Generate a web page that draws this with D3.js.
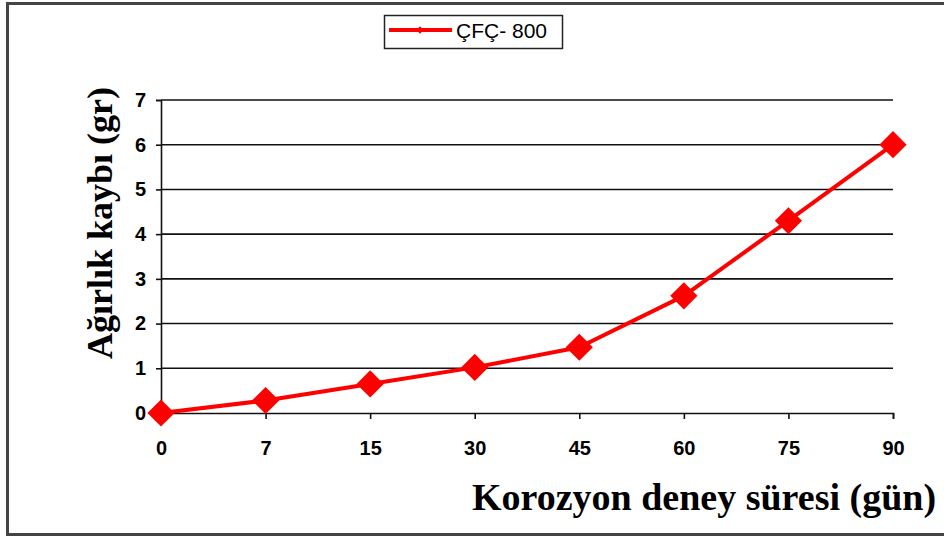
<!DOCTYPE html>
<html>
<head>
<meta charset="utf-8">
<script src="https://cdn.jsdelivr.net/npm/d3@7"></script>
<style>
  html, body { margin: 0; padding: 0; background: #fff; }
  svg { display: block; }
</style>
</head>
<body>
<svg id="chart" width="944" height="538"></svg>
<script>
// Corrosion test: weight loss over time
const days = ["0", "7", "15", "30", "45", "60", "75", "90"];
const weightLoss = [0, 0.28, 0.65, 1.02, 1.47, 2.62, 4.3, 6.0];
const yTicks = [0, 1, 2, 3, 4, 5, 6, 7];
const seriesName = "ÇFÇ- 800";

const svg = d3.select("#chart");
const W = 944, H = 538;
const plot = { left: 161, right: 893, top: 100, bottom: 413 };

// outer frame
svg.append("rect")
  .attr("x", 7.5).attr("y", 3.5)
  .attr("width", W + 10).attr("height", 531)
  .attr("fill", "#fff")
  .attr("stroke", "#444").attr("stroke-width", 3);

const x = d3.scalePoint().domain(days).range([plot.left, plot.right]);
const y = d3.scaleLinear().domain([0, 7]).range([plot.bottom, plot.top]);

// horizontal gridlines
svg.append("g")
  .selectAll("line")
  .data(yTicks.filter(t => t > 0))
  .join("line")
  .attr("x1", plot.left).attr("x2", plot.right)
  .attr("y1", d => y(d)).attr("y2", d => y(d))
  .attr("stroke", "#111").attr("stroke-width", 1.6);

const tickFont = "Arial, 'Liberation Sans', sans-serif";

// y axis
const yAxis = svg.append("g")
  .attr("transform", `translate(${plot.left},0)`)
  .call(d3.axisLeft(y).tickValues(yTicks).tickSize(5).tickPadding(10).tickFormat(d3.format("d")));
yAxis.attr("font-size", null).attr("font-family", null);
yAxis.select(".domain").attr("stroke", "#111").attr("stroke-width", 1.6);
yAxis.selectAll(".tick line").attr("stroke", "#111").attr("stroke-width", 1.6);
yAxis.selectAll("text")
  .style("font-family", tickFont)
  .style("font-weight", "bold").style("font-size", "20px").attr("fill", "#000");

// x axis
const xAxis = svg.append("g")
  .attr("transform", `translate(0,${plot.bottom})`)
  .call(d3.axisBottom(x).tickSize(6).tickPadding(22));
xAxis.attr("font-size", null).attr("font-family", null);
xAxis.select(".domain").attr("stroke", "#111").attr("stroke-width", 1.6);
xAxis.selectAll(".tick line").attr("stroke", "#111").attr("stroke-width", 1.6);
xAxis.selectAll("text")
  .style("font-family", tickFont)
  .style("font-weight", "bold").style("font-size", "20px").attr("fill", "#000");

// series line
const pts = days.map((d, i) => [x(d), y(weightLoss[i])]);
svg.append("path")
  .attr("d", d3.line()(pts))
  .attr("fill", "none")
  .attr("stroke", "#ff0000").attr("stroke-width", 4)
  .attr("stroke-linejoin", "round");

// diamond markers
const diamond = d3.symbol().type(d3.symbolSquare).size(370);
svg.append("g")
  .selectAll("path")
  .data(pts)
  .join("path")
  .attr("d", diamond)
  .attr("transform", d => `translate(${d[0]},${d[1]}) rotate(45)`)
  .attr("fill", "#ff0000");

// axis titles
const titleFont = "'Liberation Serif', 'Times New Roman', serif";
svg.append("text")
  .attr("x", 704).attr("y", 510)
  .attr("text-anchor", "middle")
  .style("font-family", titleFont)
  .style("font-weight", "bold").style("font-size", "38px").attr("fill", "#000")
  .text("Korozyon deney süresi (gün)");

svg.append("text")
  .attr("transform", "translate(112,223) rotate(-90)")
  .attr("text-anchor", "middle")
  .style("font-family", titleFont)
  .style("font-weight", "bold").style("font-size", "36px").attr("fill", "#000")
  .text("Ağırlık kaybı (gr)");

// legend
const lg = svg.append("g");
lg.append("rect")
  .attr("x", 384.5).attr("y", 15.5).attr("width", 178).attr("height", 33)
  .attr("fill", "#fff").attr("stroke", "#222").attr("stroke-width", 1.5);
lg.append("line")
  .attr("x1", 389).attr("x2", 452).attr("y1", 30).attr("y2", 30)
  .attr("stroke", "#ff0000").attr("stroke-width", 4);
lg.append("path")
  .attr("d", d3.symbol().type(d3.symbolSquare).size(30))
  .attr("transform", "translate(420,30) rotate(45)")
  .attr("fill", "#ff0000");
lg.append("text")
  .attr("x", 456).attr("y", 38)
  .style("font-family", tickFont)
  .style("font-size", "21px").attr("fill", "#000")
  .text(seriesName);
</script>
</body>
</html>
